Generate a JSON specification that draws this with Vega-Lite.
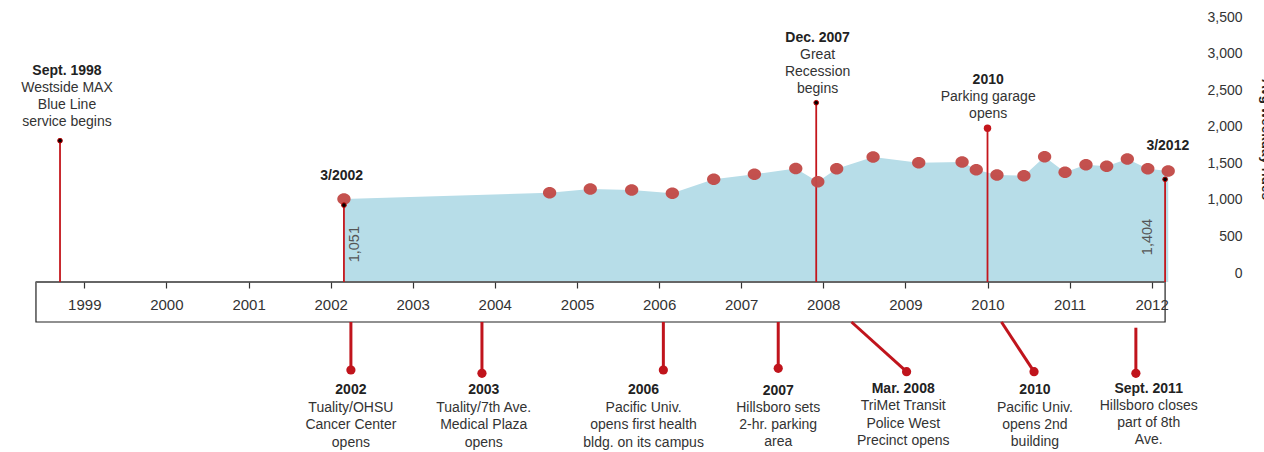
{
  "$schema": "https://vega.github.io/schema/vega-lite/v6.json",
  "width": 1264,
  "height": 452,
  "autosize": {"type": "none"},
  "padding": 0,
  "background": "white",
  "config": {"view": {"stroke": null}, "font": "Liberation Sans"},
  "datasets": {
    "rides": [
      {"date": "2002-03-01", "rides": 1135},
      {"date": "2004-09-01", "rides": 1221},
      {"date": "2005-03-01", "rides": 1271},
      {"date": "2005-09-01", "rides": 1258},
      {"date": "2006-03-01", "rides": 1213},
      {"date": "2006-09-01", "rides": 1405},
      {"date": "2007-03-01", "rides": 1474},
      {"date": "2007-09-01", "rides": 1552},
      {"date": "2007-12-08", "rides": 1371},
      {"date": "2008-03-01", "rides": 1549},
      {"date": "2008-08-10", "rides": 1709},
      {"date": "2009-03-01", "rides": 1631},
      {"date": "2009-09-10", "rides": 1641},
      {"date": "2009-11-12", "rides": 1535},
      {"date": "2010-02-12", "rides": 1463},
      {"date": "2010-06-12", "rides": 1453},
      {"date": "2010-09-12", "rides": 1713},
      {"date": "2010-12-12", "rides": 1500},
      {"date": "2011-03-15", "rides": 1604},
      {"date": "2011-06-15", "rides": 1582},
      {"date": "2011-09-15", "rides": 1682},
      {"date": "2011-12-15", "rides": 1549},
      {"date": "2012-03-15", "rides": 1518}
    ],
    "band": [
      {"start": "1998-05-31", "end": "2012-03-01", "top": 0, "bottom": -547}
    ],
    "topEvents": [
      {"date": "1998-09-15", "top": 1932, "dot": "black", "labelDate": "1998-10-16", "title": "Sept. 1998", "titleY": 2881, "body": "Westside MAX\nBlue Line\nservice begins", "bodyY": 2744},
      {"date": "2002-03-01", "top": 1051, "dot": "black", "labelDate": "2002-02-19", "title": "3/2002", "titleY": 1449},
      {"date": "2007-12-01", "top": 2451, "dot": "black", "labelDate": "2007-12-07", "title": "Dec. 2007", "titleY": 3332, "body": "Great\nRecession\nbegins", "bodyY": 3195},
      {"date": "2010-01-01", "top": 2101, "dot": "red", "labelDate": "2010-01-04", "title": "2010", "titleY": 2758, "body": "Parking garage\nopens", "bodyY": 2625},
      {"date": "2012-03-01", "top": 1404, "dot": "black", "labelDate": "2012-03-13", "title": "3/2012", "titleY": 1859}
    ],
    "valueLabels": [
      {"labelDate": "2002-03-19", "labelY": 517, "text": "1,051"},
      {"labelDate": "2011-11-14", "labelY": 615, "text": "1,404"}
    ],
    "bottomEvents": [
      {"date": "2002-04-01", "date2": "2002-04-01", "start": -547, "end": -1203, "labelDate": "2002-04-01", "title": "2002", "titleY": -1477, "body": "Tuality/OHSU\nCancer Center\nopens", "bodyY": -1631},
      {"date": "2003-11-05", "date2": "2003-11-05", "start": -547, "end": -1248, "labelDate": "2003-11-13", "title": "2003", "titleY": -1477, "body": "Tuality/7th Ave.\nMedical Plaza\nopens", "bodyY": -1631},
      {"date": "2006-01-20", "date2": "2006-01-20", "start": -547, "end": -1203, "labelDate": "2005-10-24", "title": "2006", "titleY": -1477, "body": "Pacific Univ.\nopens first health\nbldg. on its campus", "bodyY": -1631},
      {"date": "2007-06-15", "date2": "2007-06-15", "start": -547, "end": -1180, "labelDate": "2007-06-15", "title": "2007", "titleY": -1490, "body": "Hillsboro sets\n2-hr. parking\narea", "bodyY": -1627},
      {"date": "2008-05-06", "date2": "2009-01-06", "start": -547, "end": -1226, "labelDate": "2008-12-22", "title": "Mar. 2008", "titleY": -1459, "body": "TriMet Transit\nPolice West\nPrecinct opens", "bodyY": -1604},
      {"date": "2010-03-04", "date2": "2010-07-27", "start": -547, "end": -1226, "labelDate": "2010-07-31", "title": "2010", "titleY": -1472, "body": "Pacific Univ.\nopens 2nd\nbuilding", "bodyY": -1627},
      {"date": "2011-10-23", "date2": "2011-10-23", "start": -625, "end": -1248, "labelDate": "2011-12-19", "title": "Sept. 2011", "titleY": -1459, "body": "Hillsboro closes\npart of 8th\nAve.", "bodyY": -1600}
    ]
  },
  "layer": [
    {
      "data": {"name": "rides"},
      "mark": {"type": "area", "color": "#b7dde8", "interpolate": "linear"},
      "encoding": {
        "x": {
          "field": "date", "type": "temporal",
          "scale": {"type": "utc", "domain": [{"year": 1997, "month": 12, "date": 22, "utc": true}, {"year": 2013, "month": 5, "date": 15, "utc": true}]},
          "axis": {
            "orient": "bottom", "offset": -170,
            "values": [{"year": 1999, "utc": true}, {"year": 2000, "utc": true}, {"year": 2001, "utc": true}, {"year": 2002, "utc": true}, {"year": 2003, "utc": true}, {"year": 2004, "utc": true}, {"year": 2005, "utc": true}, {"year": 2006, "utc": true}, {"year": 2007, "utc": true}, {"year": 2008, "utc": true}, {"year": 2009, "utc": true}, {"year": 2010, "utc": true}, {"year": 2011, "utc": true}, {"year": 2012, "utc": true}],
            "format": "%Y", "domain": false, "grid": false,
            "tickSize": 6, "tickColor": "#333", "tickWidth": 1.2,
            "labelFontSize": 15, "labelColor": "#333", "labelPadding": 9, "labelFont": "Liberation Sans",
            "labelFlush": false, "labelOverlap": false, "title": null, "zindex": 1
          }
        },
        "y": {
          "field": "rides", "type": "quantitative",
          "scale": {"domain": [-2324.2, 3855.5], "nice": false, "zero": false},
          "axis": {
            "orient": "right", "offset": -22,
            "values": [0, 500, 1000, 1500, 2000, 2500, 3000, 3500], "format": ",.0f",
            "domain": false, "ticks": false, "tickSize": 0, "grid": false,
            "labelAlign": "right", "labelPadding": 0, "labelOffset": -9,
            "labelFontSize": 14, "labelColor": "#333", "labelFont": "Liberation Sans",
            "title": "Avg weekday rides", "titleFontSize": 13.5, "titleFontWeight": "bold", "titleColor": "#222", "titleFont": "Liberation Sans",
            "titleAngle": 90, "titleX": 19, "titleY": 139, "titleAlign": "center", "titleBaseline": "alphabetic", "zindex": 1
          }
        },
        "y2": {"datum": 0}
      }
    },
    {
      "data": {"name": "band"},
      "mark": {"type": "rect", "fill": "white", "stroke": "#222", "strokeWidth": 1.2},
      "encoding": {
        "x": {"field": "start", "type": "temporal"},
        "x2": {"field": "end"},
        "y": {"field": "top", "type": "quantitative"},
        "y2": {"field": "bottom"}
      }
    },
    {
      "data": {"name": "band"},
      "mark": {"type": "rule", "color": "#666", "strokeWidth": 2},
      "encoding": {
        "x": {"field": "start", "type": "temporal"},
        "x2": {"field": "end"},
        "y": {"field": "top", "type": "quantitative"}
      }
    },
    {
      "data": {"name": "topEvents"},
      "mark": {"type": "rule", "color": "#c4161c", "strokeWidth": 1.8},
      "encoding": {
        "x": {"field": "date", "type": "temporal"},
        "y": {"field": "top", "type": "quantitative"},
        "y2": {"datum": 0}
      }
    },
    {
      "data": {"name": "bottomEvents"},
      "mark": {"type": "rule", "color": "#c0141c", "strokeWidth": 3},
      "encoding": {
        "x": {"field": "date", "type": "temporal"},
        "x2": {"field": "date2"},
        "y": {"field": "start", "type": "quantitative"},
        "y2": {"field": "end"}
      }
    },
    {
      "data": {"name": "bottomEvents"},
      "mark": {"type": "point", "filled": true, "size": 85, "color": "#c0141c", "opacity": 1},
      "encoding": {
        "x": {"field": "date2", "type": "temporal"},
        "y": {"field": "end", "type": "quantitative"}
      }
    },
    {
      "data": {"name": "rides"},
      "mark": {"type": "point", "filled": true, "shape": "M -1 0 A 1 0.87 0 1 1 1 0 A 1 0.87 0 1 1 -1 0 Z", "size": 177, "color": "#c24b48", "opacity": 0.97, "strokeWidth": 0},
      "encoding": {
        "x": {"field": "date", "type": "temporal"},
        "y": {"field": "rides", "type": "quantitative"}
      }
    },
    {
      "data": {"name": "topEvents"},
      "transform": [{"filter": "datum.dot === 'black'"}],
      "mark": {"type": "point", "filled": true, "size": 22, "fill": "#000", "stroke": "#b00", "strokeWidth": 1, "opacity": 1},
      "encoding": {
        "x": {"field": "date", "type": "temporal"},
        "y": {"field": "top", "type": "quantitative"}
      }
    },
    {
      "data": {"name": "topEvents"},
      "transform": [{"filter": "datum.dot === 'red'"}],
      "mark": {"type": "point", "filled": true, "size": 55, "color": "#c4161c", "opacity": 1},
      "encoding": {
        "x": {"field": "date", "type": "temporal"},
        "y": {"field": "top", "type": "quantitative"}
      }
    },
    {
      "data": {"name": "topEvents"},
      "mark": {"type": "text", "fontSize": 14, "fontWeight": "bold", "color": "#222", "baseline": "middle", "align": "center"},
      "encoding": {
        "x": {"field": "labelDate", "type": "temporal"},
        "y": {"field": "titleY", "type": "quantitative"},
        "text": {"field": "title"}
      }
    },
    {
      "data": {"name": "topEvents"},
      "transform": [{"filter": "isValid(datum.body)"}],
      "mark": {"type": "text", "fontSize": 14, "color": "#333", "baseline": "top", "align": "center", "lineBreak": "\n", "lineHeight": 17},
      "encoding": {
        "x": {"field": "labelDate", "type": "temporal"},
        "y": {"field": "bodyY", "type": "quantitative"},
        "text": {"field": "body"}
      }
    },
    {
      "data": {"name": "bottomEvents"},
      "mark": {"type": "text", "fontSize": 14, "fontWeight": "bold", "color": "#222", "baseline": "middle", "align": "center"},
      "encoding": {
        "x": {"field": "labelDate", "type": "temporal"},
        "y": {"field": "titleY", "type": "quantitative"},
        "text": {"field": "title"}
      }
    },
    {
      "data": {"name": "bottomEvents"},
      "mark": {"type": "text", "fontSize": 14, "color": "#333", "baseline": "top", "align": "center", "lineBreak": "\n", "lineHeight": 17.2},
      "encoding": {
        "x": {"field": "labelDate", "type": "temporal"},
        "y": {"field": "bodyY", "type": "quantitative"},
        "text": {"field": "body"}
      }
    },
    {
      "data": {"name": "valueLabels"},
      "mark": {"type": "text", "fontSize": 14.5, "color": "#555", "baseline": "top", "align": "center", "angle": 270},
      "encoding": {
        "x": {"field": "labelDate", "type": "temporal"},
        "y": {"field": "labelY", "type": "quantitative"},
        "text": {"field": "text"}
      }
    }
  ]
}
